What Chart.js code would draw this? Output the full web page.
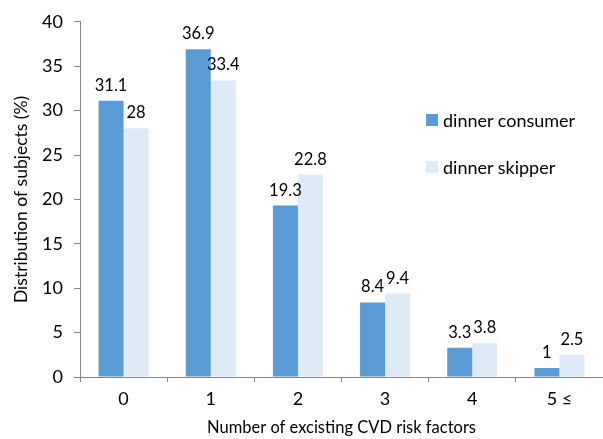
<!DOCTYPE html>
<html>
<head>
<meta charset="utf-8">
<script src="https://cdn.jsdelivr.net/npm/chart.js@4"></script>
<style>
  body { margin: 0; background: #fff; }
  #wrap { position: relative; width: 603px; height: 439px; }
  #legend { position: absolute; left: 426px; top: 108px; font-family: Lato, sans-serif; font-size: 18px; color: #000; }
  .item { display: flex; align-items: center; height: 24px; margin-bottom: 23px; }
  .box { width: 12px; height: 12px; margin-right: 5px; }
</style>
</head>
<body>
<div id="wrap">
  <canvas id="chart" width="603" height="439"></canvas>
  <div id="legend"></div>
</div>
<script>
const categories = ['0', '1', '2', '3', '4', '5 ≤'];
const consumer = [31.1, 36.9, 19.3, 8.4, 3.3, 1];
const skipper = [28, 33.4, 22.8, 9.4, 3.8, 2.5];
const seriesNames = ['dinner consumer', 'dinner skipper'];
const colors = ['#5b9bd5', '#deebf7'];

// labels above bars
const barLabels = {
    id: 'barLabels',
    afterDatasetsDraw(chart) {
        const ctx = chart.ctx;
        ctx.save();
        ctx.font = '16.5px Lato, sans-serif';
        ctx.fillStyle = '#000';
        ctx.textAlign = 'center';
        ctx.textBaseline = 'bottom';
        chart.data.datasets.forEach((ds, i) => {
            chart.getDatasetMeta(i).data.forEach((bar, j) => {
                ctx.fillText(String(ds.data[j]), bar.x, bar.y - 7);
            });
        });
        ctx.restore();
    }
};

const legend = document.getElementById('legend');
seriesNames.forEach((name, i) => {
    const item = document.createElement('div');
    item.className = 'item';
    item.innerHTML = '<span class="box" style="background:' + colors[i] + '"></span><span>' + name + '</span>';
    legend.appendChild(item);
});

new Chart(document.getElementById('chart'), {
    type: 'bar',
    data: {
        labels: categories,
        datasets: [
            { label: seriesNames[0], data: consumer, backgroundColor: colors[0] },
            { label: seriesNames[1], data: skipper, backgroundColor: colors[1] }
        ]
    },
    options: {
        responsive: false,
        animation: false,
        categoryPercentage: 0.574,
        barPercentage: 1,
        layout: { padding: { top: 21, right: 0, left: 0, bottom: 0 } },
        plugins: {
            legend: { display: false },
            tooltip: { enabled: false }
        },
        scales: {
            x: {
                afterFit: (s) => { s.height = 62; },
                grid: { offset: true, drawOnChartArea: false, tickLength: 5, color: '#868686' },
                border: { color: '#868686' },
                ticks: { color: '#000', font: { family: 'Lato', size: 18 }, padding: 6 },
                title: {
                    display: true,
                    text: 'Number of excisting CVD risk factors',
                    color: '#000',
                    font: { family: 'Lato', size: 16.5 },
                    padding: { top: 0, bottom: 1 }
                }
            },
            y: {
                min: 0,
                max: 40,
                afterFit: (s) => { s.width = 80; },
                grid: { drawOnChartArea: false, tickLength: 6, color: '#868686' },
                border: { color: '#868686' },
                ticks: { stepSize: 5, color: '#000', font: { family: 'Lato', size: 18 }, padding: 11 },
                title: {
                    display: true,
                    text: 'Distribution of subjects (%)',
                    color: '#000',
                    font: { family: 'Lato', size: 17.5 },
                    padding: { top: 11, bottom: 0 }
                }
            }
        }
    },
    plugins: [barLabels]
});
</script>
</body>
</html>
